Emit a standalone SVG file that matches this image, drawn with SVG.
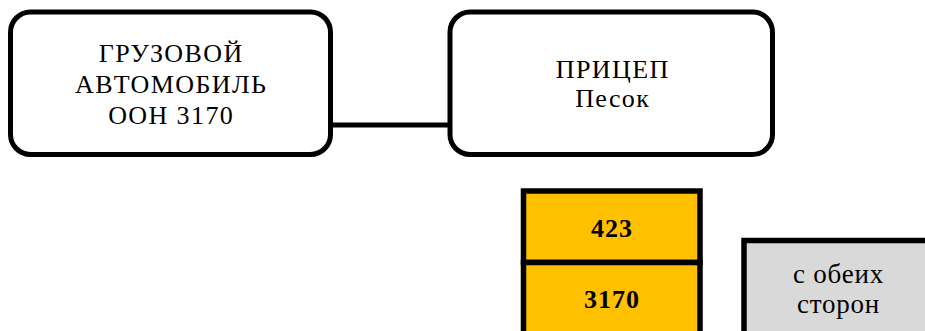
<svg xmlns="http://www.w3.org/2000/svg" width="925" height="331" viewBox="0 0 925 331">
<style>
.box{fill:#FFFFFF;stroke:#000000;stroke-width:5}
.ybox{fill:#FFC000;stroke:#000000;stroke-width:5.5}
.gbox{fill:#D9D9D9;stroke:#000000;stroke-width:5.5}
.t{font-family:"Liberation Serif","Times New Roman",serif;font-size:26px;fill:#000000;text-anchor:middle;letter-spacing:1.4px}
.b{font-weight:bold;letter-spacing:1px}
.g{font-size:27px;letter-spacing:0.8px}
.conn{stroke:#000000;stroke-width:5;fill:none}
</style>
<rect width="925" height="331" fill="#FFFFFF"/>
<g id="connectors">
<line class="conn" x1="330" y1="125" x2="452" y2="125"/>
</g>
<g id="truck">
<rect class="box" x="10.5" y="12" width="320" height="142.5" rx="20"/>
<text class="t" x="171.2" y="61.7">ГРУЗОВОЙ</text>
<text class="t" x="171.2" y="93.3">АВТОМОБИЛЬ</text>
<text class="t" x="171.2" y="124.3">ООН 3170</text>
</g>
<g id="trailer">
<rect class="box" x="450" y="12" width="322.5" height="142.5" rx="20"/>
<text class="t" x="612.7" y="78.3">ПРИЦЕП</text>
<text class="t" x="612.7" y="107.3">Песок</text>
</g>
<g id="code423">
<rect class="ybox" x="523.5" y="191" width="176.5" height="71.5"/>
<text class="t b" x="612" y="236.7">423</text>
</g>
<g id="code3170">
<rect class="ybox" x="523.5" y="262.5" width="176.5" height="80"/>
<text class="t b" x="612" y="307.7">3170</text>
</g>
<g id="sides">
<rect class="gbox" x="744" y="240.5" width="189" height="100"/>
<text class="t g" x="838.5" y="282.7">с обеих</text>
<text class="t g" x="838.5" y="313.3">сторон</text>
</g>
</svg>
